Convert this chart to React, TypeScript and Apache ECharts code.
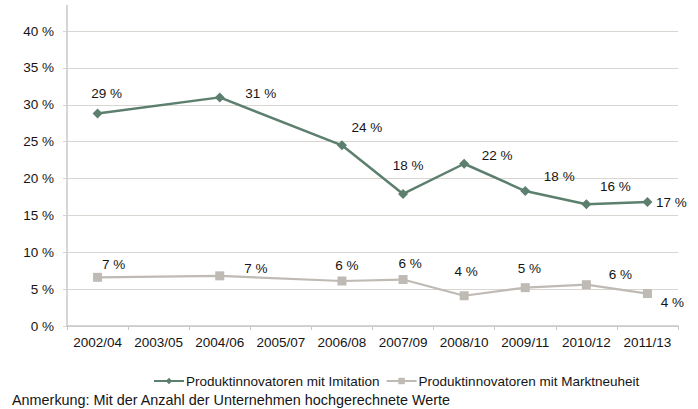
import React, { useEffect, useRef } from "react";
import * as echarts from "echarts";

const categories = ["2002/04", "2003/05", "2004/06", "2005/07", "2006/08", "2007/09", "2008/10", "2009/11", "2010/12", "2011/13"];
const imitationValues = [28.8, null, 31.0, null, 24.5, 17.9, 22.0, 18.3, 16.5, 16.8];
const marketValues = [6.6, null, 6.8, null, 6.1, 6.3, 4.1, 5.2, 5.6, 4.4];
const imitationLabels = ["29 %", "", "31 %", "", "24 %", "18 %", "22 %", "18 %", "16 %", "17 %"];
const marketLabels = ["7 %", "", "7 %", "", "6 %", "6 %", "4 %", "5 %", "6 %", "4 %"];
const yTicks = [0, 5, 10, 15, 20, 25, 30, 35, 40];
const seriesNames = ["Produktinnovatoren mit Imitation", "Produktinnovatoren mit Marktneuheit"];
const noteText = "Anmerkung: Mit der Anzahl der Unternehmen hochgerechnete Werte";

// label offsets (style only, relative to each marker)
const imitationOffsets: number[][] = [[9, -20], [0, 0], [41, -4], [0, 0], [25, -18], [5, -28], [33, -8], [34, -15], [29, -18], [24, 0]];
const marketOffsets: number[][] = [[16, -13], [0, 0], [36, -7], [0, 0], [5, -16], [7, -16], [2, -24], [4, -19], [34, -10], [25, 9]];

const FONT = "'Liberation Sans', Arial, Helvetica, sans-serif";
const FS = 13.5;
const TEXT = "#151515";
const GREEN = "#5c7f6e";
const GREY = "#bfbab4";

function buildData(values: (number | null)[], labels: string[], offsets: number[][]) {
  return values.map((v, i) => {
    if (v === null) return null;
    return {
      value: v,
      label: {
        show: true,
        position: "inside",
        offset: offsets[i],
        formatter: () => labels[i],
      },
    };
  });
}

export default function App() {
  const ref = useRef<HTMLDivElement>(null);
  useEffect(() => {
    if (!ref.current) return;
    const chart = echarts.init(ref.current, null, { renderer: "svg" });
    chart.setOption({
      animation: false,
      backgroundColor: "#ffffff",
      textStyle: { fontFamily: FONT },
      grid: { left: 67, right: 20, top: 31, bottom: 83, containLabel: false },
      title: {
        text: noteText,
        left: 12,
        top: 393,
        padding: 0,
        textStyle: { fontFamily: FONT, fontSize: 14.4, fontWeight: "normal", color: TEXT },
      },
      legend: {
        data: seriesNames,
        left: 153,
        top: 374,
        padding: 0,
        itemWidth: 30,
        itemHeight: 8,
        itemGap: 6,
        textStyle: { fontFamily: FONT, fontSize: FS, color: TEXT, padding: [0, 0, 0, -3] },
      },
      xAxis: {
        type: "category",
        data: categories,
        boundaryGap: true,
        axisLine: { lineStyle: { color: "#c8c8c8", width: 1.5 } },
        axisTick: { show: true, length: 4, lineStyle: { color: "#c8c8c8" } },
        axisLabel: { fontFamily: FONT, fontSize: FS, color: TEXT, margin: 9, interval: 0 },
        splitLine: { show: false },
      },
      yAxis: {
        type: "value",
        min: yTicks[0],
        max: yTicks[yTicks.length - 1],
        interval: 5,
        axisLine: { show: true, lineStyle: { color: "#c8c8c8", width: 1.5 } },
        axisTick: { show: true, length: 4, lineStyle: { color: "#d6d3d0" } },
        axisLabel: { fontFamily: FONT, fontSize: FS, color: TEXT, margin: 13, formatter: "{value} %" },
        splitLine: { show: true, lineStyle: { color: "#d9d6d2", width: 1.2 } },
      },
      graphic: [
        {
          type: "line",
          shape: { x1: 67, y1: 5, x2: 67, y2: 31 },
          style: { stroke: "#c8c8c8", lineWidth: 1.5 },
        },
      ],
      series: [
        {
          name: seriesNames[0],
          type: "line",
          data: buildData(imitationValues, imitationLabels, imitationOffsets),
          connectNulls: true,
          symbol: "diamond",
          symbolSize: 10,
          lineStyle: { color: GREEN, width: 2.5 },
          itemStyle: { color: GREEN },
          label: { color: TEXT, fontFamily: FONT, fontSize: FS },
          z: 3,
        },
        {
          name: seriesNames[1],
          type: "line",
          data: buildData(marketValues, marketLabels, marketOffsets),
          connectNulls: true,
          symbol: "rect",
          symbolSize: 9,
          lineStyle: { color: GREY, width: 2.2 },
          itemStyle: { color: GREY },
          label: { color: TEXT, fontFamily: FONT, fontSize: FS },
          z: 2,
        },
      ],
    });
    return () => chart.dispose();
  }, []);
  return (
    <div
      ref={ref}
      style={{ position: "absolute", left: 0, top: 0, width: 698, height: 409 }}
    />
  );
}
